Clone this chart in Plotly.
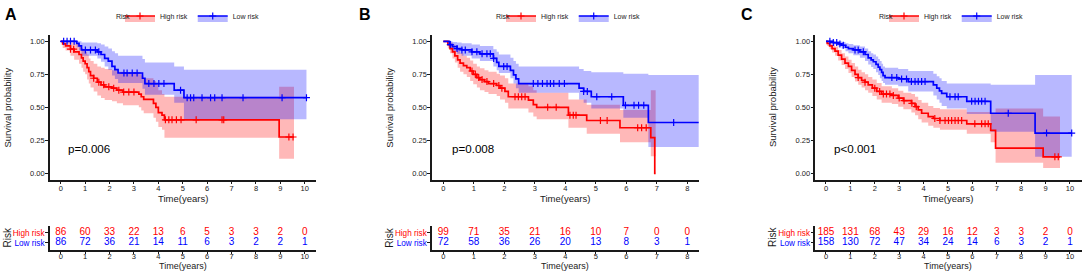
import plotly.graph_objects as go

# ---------------- data ----------------
TICKS_A = list(range(0, 11))
TICKS_B = list(range(0, 9))
TICKS_C = list(range(0, 11))

# Panel A -- High risk
A_high_t = [0, 0.08, 0.2, 0.4, 0.55, 0.75, 0.85, 0.92, 1.0, 1.08, 1.15, 1.22, 1.35, 1.5, 1.65, 1.8, 2.1, 2.3, 2.55, 3.2, 3.3, 3.4, 3.8, 3.9, 4.0, 4.15, 4.25, 8.95]
A_high_s = [1.0, 0.98, 0.965, 0.94, 0.92, 0.90, 0.875, 0.85, 0.83, 0.80, 0.77, 0.74, 0.72, 0.69, 0.67, 0.655, 0.645, 0.63, 0.615, 0.60, 0.58, 0.56, 0.53, 0.50, 0.46, 0.44, 0.405, 0.275]
A_high_up = [1.0, 1.0, 1.0, 0.99, 0.98, 0.97, 0.95, 0.93, 0.92, 0.90, 0.87, 0.85, 0.83, 0.81, 0.80, 0.79, 0.78, 0.77, 0.76, 0.75, 0.74, 0.72, 0.70, 0.67, 0.63, 0.60, 0.58, 0.655]
A_high_lo = [1.0, 0.95, 0.93, 0.89, 0.86, 0.83, 0.80, 0.77, 0.75, 0.71, 0.68, 0.65, 0.62, 0.59, 0.57, 0.555, 0.545, 0.53, 0.515, 0.50, 0.475, 0.455, 0.42, 0.39, 0.35, 0.33, 0.27, 0.11]
A_high_end = 9.56
A_high_cens = [0.4, 0.53, 1.35, 1.56, 1.76, 1.97, 2.17, 2.38, 2.58, 2.79, 3.0, 4.29, 4.43, 4.56, 4.74, 4.93, 5.55, 6.61, 6.68, 9.35, 9.52]
# Panel A -- Low risk
A_low_t = [0, 0.65, 0.75, 0.85, 1.5, 1.65, 1.8, 1.95, 2.1, 2.22, 2.35, 3.35, 3.45, 4.65, 5.05]
A_low_s = [1.0, 0.985, 0.965, 0.935, 0.92, 0.90, 0.87, 0.85, 0.81, 0.785, 0.76, 0.72, 0.68, 0.63, 0.573]
A_low_up = [1.0, 1.0, 1.0, 0.99, 0.985, 0.975, 0.96, 0.945, 0.925, 0.91, 0.89, 0.865, 0.84, 0.81, 0.785]
A_low_lo = [1.0, 0.955, 0.93, 0.89, 0.87, 0.845, 0.81, 0.785, 0.74, 0.715, 0.685, 0.64, 0.595, 0.535, 0.41]
A_low_end = 10.07
A_low_cens = [0.12, 0.26, 0.4, 0.55, 1.01, 1.22, 1.42, 1.56, 2.59, 2.72, 2.93, 3.13, 3.61, 3.82, 4.02, 4.23, 4.91, 5.18, 5.32, 5.45, 5.79, 6.14, 6.31, 6.61, 7.47, 9.07, 10.07]
A_high_risk = [86, 60, 33, 22, 13, 6, 5, 3, 3, 2, 0]
A_low_risk = [86, 72, 36, 21, 14, 11, 6, 3, 2, 2, 1]
A_p = "p=0.006"

# Panel B -- High risk
B_high_t = [0, 0.15, 0.22, 0.3, 0.38, 0.47, 0.55, 0.66, 0.77, 0.88, 0.98, 1.1, 1.2, 1.35, 1.48, 1.75, 1.86, 2.02, 2.13, 2.79, 2.95, 3.06, 4.1, 4.7, 5.79, 6.8, 6.93]
B_high_s = [1.0, 0.975, 0.945, 0.92, 0.89, 0.86, 0.835, 0.815, 0.80, 0.775, 0.75, 0.725, 0.71, 0.695, 0.68, 0.665, 0.645, 0.62, 0.58, 0.555, 0.52, 0.50, 0.44, 0.40, 0.345, 0.27, 0.0]
B_high_up = [1.0, 1.0, 0.99, 0.975, 0.95, 0.93, 0.91, 0.89, 0.875, 0.855, 0.83, 0.81, 0.795, 0.78, 0.77, 0.755, 0.74, 0.72, 0.68, 0.66, 0.63, 0.61, 0.56, 0.52, 0.48, 0.63, 0.63]
B_high_lo = [1.0, 0.945, 0.91, 0.87, 0.84, 0.80, 0.77, 0.75, 0.73, 0.70, 0.675, 0.65, 0.63, 0.615, 0.60, 0.585, 0.56, 0.535, 0.49, 0.46, 0.43, 0.41, 0.345, 0.30, 0.235, 0.13, 0.13]
B_high_end = 6.96
B_high_cens = [0.94, 1.05, 1.16, 1.27, 1.43, 1.65, 1.82, 1.92, 2.35, 2.46, 2.57, 2.68, 3.42, 3.7, 4.15, 4.26, 4.35, 5.15, 5.37, 6.37, 6.5, 6.65]
# Panel B -- Low risk
B_low_t = [0, 0.2, 0.3, 0.45, 0.6, 0.93, 1.2, 1.64, 1.75, 1.82, 2.2, 2.3, 2.38, 2.47, 4.45, 4.6, 4.85, 5.9, 6.72]
B_low_s = [1.0, 0.975, 0.96, 0.945, 0.935, 0.92, 0.905, 0.87, 0.84, 0.81, 0.78, 0.745, 0.715, 0.68, 0.645, 0.62, 0.58, 0.515, 0.385]
B_low_up = [1.0, 1.0, 0.995, 0.99, 0.985, 0.975, 0.965, 0.94, 0.92, 0.90, 0.875, 0.85, 0.83, 0.81, 0.79, 0.775, 0.765, 0.755, 0.745]
B_low_lo = [1.0, 0.945, 0.925, 0.905, 0.89, 0.87, 0.85, 0.81, 0.78, 0.76, 0.72, 0.68, 0.645, 0.61, 0.56, 0.535, 0.49, 0.42, 0.20]
B_low_end = 8.37
B_low_cens = [0.23, 0.45, 0.61, 0.72, 0.94, 1.1, 1.27, 1.43, 1.54, 1.65, 1.98, 2.09, 2.95, 3.1, 3.25, 3.4, 3.51, 3.62, 3.8, 3.97, 4.6, 4.72, 5.03, 5.52, 5.97, 6.25, 6.4, 6.57, 7.55]
B_high_risk = [99, 71, 35, 21, 16, 10, 7, 0, 0]
B_low_risk = [72, 58, 36, 26, 20, 13, 8, 3, 1]
B_p = "p=0.008"

# Panel C -- High risk
C_high_t = [0, 0.05, 0.15, 0.25, 0.37, 0.5, 0.64, 0.78, 0.92, 1.05, 1.19, 1.32, 1.46, 1.6, 1.73, 1.9, 2.08, 2.28, 2.7, 2.96, 3.17, 3.5, 3.65, 3.78, 3.92, 4.19, 4.4, 4.67, 5.77, 6.75, 6.95, 8.9]
C_high_s = [1.0, 0.985, 0.965, 0.945, 0.925, 0.895, 0.865, 0.835, 0.81, 0.78, 0.75, 0.725, 0.705, 0.69, 0.67, 0.645, 0.62, 0.60, 0.59, 0.57, 0.55, 0.53, 0.505, 0.48, 0.455, 0.43, 0.415, 0.40, 0.375, 0.325, 0.19, 0.125]
C_high_up = [1.0, 1.0, 0.99, 0.975, 0.96, 0.935, 0.91, 0.885, 0.86, 0.835, 0.81, 0.785, 0.765, 0.75, 0.73, 0.71, 0.685, 0.66, 0.645, 0.625, 0.61, 0.60, 0.58, 0.555, 0.535, 0.51, 0.495, 0.485, 0.465, 0.45, 0.49, 0.43]
C_high_lo = [1.0, 0.965, 0.94, 0.915, 0.89, 0.855, 0.82, 0.79, 0.76, 0.73, 0.695, 0.67, 0.65, 0.63, 0.61, 0.585, 0.56, 0.535, 0.525, 0.505, 0.485, 0.46, 0.44, 0.41, 0.385, 0.36, 0.345, 0.33, 0.30, 0.235, 0.08, 0.04]
C_high_end = 9.59
C_high_cens = [1.32, 1.6, 2.0, 2.2, 2.35, 2.48, 2.62, 2.76, 3.0, 3.2, 3.52, 3.7, 4.46, 4.67, 4.88, 5.02, 5.15, 5.29, 5.42, 5.56, 6.1, 6.38, 6.52, 6.65, 9.38, 9.52]
# Panel C -- Low risk
C_low_t = [0, 0.3, 0.5, 0.64, 0.8, 0.92, 1.12, 1.39, 1.6, 1.73, 1.85, 1.94, 2.05, 2.14, 2.21, 2.28, 2.34, 2.42, 2.96, 3.37, 4.4, 4.54, 4.65, 4.74, 4.95, 5.77, 6.75, 8.57]
C_low_s = [1.0, 0.99, 0.98, 0.97, 0.955, 0.945, 0.935, 0.92, 0.90, 0.875, 0.86, 0.845, 0.825, 0.805, 0.785, 0.765, 0.74, 0.725, 0.715, 0.695, 0.67, 0.645, 0.625, 0.605, 0.58, 0.545, 0.455, 0.305]
C_low_up = [1.0, 1.0, 1.0, 0.995, 0.985, 0.98, 0.97, 0.96, 0.945, 0.925, 0.91, 0.90, 0.885, 0.865, 0.85, 0.83, 0.81, 0.80, 0.79, 0.775, 0.755, 0.735, 0.72, 0.70, 0.68, 0.68, 0.67, 0.745]
C_low_lo = [1.0, 0.975, 0.96, 0.945, 0.925, 0.91, 0.895, 0.875, 0.85, 0.825, 0.805, 0.79, 0.765, 0.745, 0.72, 0.70, 0.685, 0.67, 0.66, 0.62, 0.59, 0.56, 0.535, 0.51, 0.49, 0.45, 0.315, 0.125]
C_low_end = 10.07
C_low_cens = [0.16, 0.3, 0.44, 0.57, 0.71, 1.19, 1.32, 1.53, 2.7, 2.9, 3.1, 3.3, 3.5, 3.65, 3.78, 3.92, 4.06, 5.08, 5.29, 5.42, 5.97, 6.11, 6.25, 6.38, 6.52, 7.47, 9.04, 10.07]
C_high_risk = [185, 131, 68, 43, 29, 16, 12, 3, 3, 2, 0]
C_low_risk = [158, 130, 72, 47, 34, 24, 14, 6, 3, 2, 1]
C_p = "p<0.001"

# ---------------- styling / layout ----------------
W, H = 1084, 274
RED, BLUE = "#FF0000", "#0000FF"
RED_FILL, BLUE_FILL = "rgba(255,0,0,0.28)", "rgba(0,0,255,0.28)"
FONT = "Liberation Sans, Arial, sans-serif"
INK = "#1a1a1a"
TICK_FS = 7.5


def fx(p):
    return p / W


def fy(p):
    return 1 - p / H


panels = [
    dict(label="A", left=49.5, right=315.5, xr=[-0.46, 10.44], ticks=TICKS_A,
         high=(A_high_t, A_high_s, A_high_up, A_high_lo, A_high_end, A_high_cens),
         low=(A_low_t, A_low_s, A_low_up, A_low_lo, A_low_end, A_low_cens),
         hr=A_high_risk, lr=A_low_risk, p=A_p, lab_x=10.8, leg_x=192, risk_x=132),
    dict(label="B", left=431.7, right=699.0, xr=[-0.38, 8.38], ticks=TICKS_B,
         high=(B_high_t, B_high_s, B_high_up, B_high_lo, B_high_end, B_high_cens),
         low=(B_low_t, B_low_s, B_low_up, B_low_lo, B_low_end, B_low_cens),
         hr=B_high_risk, lr=B_low_risk, p=B_p, lab_x=364.5, leg_x=573, risk_x=512),
    dict(label="C", left=815.0, right=1081.7, xr=[-0.45, 10.48], ticks=TICKS_C,
         high=(C_high_t, C_high_s, C_high_up, C_high_lo, C_high_end, C_high_cens),
         low=(C_low_t, C_low_s, C_low_up, C_low_lo, C_low_end, C_low_cens),
         hr=C_high_risk, lr=C_low_risk, p=C_p, lab_x=747, leg_x=956, risk_x=895),
]

MAIN_Y_DOM = [fy(179.9), fy(34.7)]
TAB_Y_DOM = [fy(250.0), fy(226.0)]


def step_at(ts, ss, x):
    v = ss[0]
    for t, s in zip(ts, ss):
        if t <= x:
            v = s
    return v


def ann(text, x, y, size, xanchor="center", angle=0, color=INK, xref="paper", yref="paper"):
    return dict(text=text, x=x, y=y, xref=xref, yref=yref, xanchor=xanchor, yanchor="middle",
                showarrow=False, textangle=angle, font=dict(size=size, color=color, family=FONT))


fig = go.Figure()
annotations = []
layout_extra = {}

for i, pn in enumerate(panels):
    k = i + 1          # main axes index
    kt = i + 4         # risk-table axes index
    xa, ya = f"x{k}", f"y{k}"
    xt, yt = f"x{kt}", f"y{kt}"
    leg = "legend" if i == 0 else f"legend{i + 1}"

    series = [(pn["high"], RED, RED_FILL, "High risk"), (pn["low"], BLUE, BLUE_FILL, "Low risk")]

    # confidence bands
    for (t, s, up, lo, end, cens), col, fill, name in series:
        xs = list(t) + [end]
        fig.add_trace(go.Scatter(x=xs, y=list(lo) + [lo[-1]], xaxis=xa, yaxis=ya, mode="lines",
                                 line=dict(width=0, shape="hv", color=fill), showlegend=False,
                                 hoverinfo="skip"))
        fig.add_trace(go.Scatter(x=xs, y=list(up) + [up[-1]], xaxis=xa, yaxis=ya, mode="lines",
                                 line=dict(width=0, shape="hv", color=fill), fill="tonexty",
                                 fillcolor=fill, showlegend=False, hoverinfo="skip"))
    # survival curves
    for (t, s, up, lo, end, cens), col, fill, name in series:
        xs = list(t) + [end]
        fig.add_trace(go.Scatter(x=xs, y=list(s) + [s[-1]], xaxis=xa, yaxis=ya, mode="lines",
                                 line=dict(width=1.7, shape="hv", color=col), showlegend=False,
                                 name=name))
    # censor marks
    for (t, s, up, lo, end, cens), col, fill, name in series:
        fig.add_trace(go.Scatter(x=cens, y=[step_at(t, s, c) for c in cens], xaxis=xa, yaxis=ya,
                                 mode="markers", marker=dict(symbol="cross-thin", size=5,
                                                             line=dict(width=1.2, color=col), color=col),
                                 showlegend=False, name=name))
    # legend keys
    for (t, s, up, lo, end, cens), col, fill, name in series:
        fig.add_trace(go.Scatter(x=[None], y=[None], xaxis=xa, yaxis=ya, mode="lines+markers",
                                 line=dict(width=1.5, color=col), fill="toself", fillcolor=fill,
                                 marker=dict(symbol="cross-thin", size=5, line=dict(width=1.2, color=col)),
                                 name=name, legend=leg, showlegend=True))
    # risk table
    fig.add_trace(go.Scatter(x=pn["ticks"], y=["High risk"] * len(pn["hr"]), xaxis=xt, yaxis=yt,
                             mode="text", text=[str(v) for v in pn["hr"]],
                             textfont=dict(color=RED, size=10, family=FONT), showlegend=False))
    fig.add_trace(go.Scatter(x=pn["ticks"], y=["Low risk"] * len(pn["lr"]), xaxis=xt, yaxis=yt,
                             mode="text", text=[str(v) for v in pn["lr"]],
                             textfont=dict(color=BLUE, size=10, family=FONT), showlegend=False))

    xdom = [fx(pn["left"]), fx(pn["right"])]
    axis_common = dict(showline=True, linecolor=INK, linewidth=1.6, ticks="outside", ticklen=2.5,
                       tickcolor=INK, tickwidth=1, showgrid=False, zeroline=False)
    tickfont = dict(size=TICK_FS, color=INK, family=FONT)
    layout_extra[f"xaxis{k}"] = dict(domain=xdom, range=pn["xr"], anchor=ya, tickvals=pn["ticks"],
                                     tickfont=tickfont, ticklabelstandoff=-2, **axis_common)
    layout_extra[f"yaxis{k}"] = dict(domain=MAIN_Y_DOM, range=[-0.05, 1.05], anchor=xa,
                                     tickvals=[0, 0.25, 0.5, 0.75, 1.0], tickformat=".2f",
                                     tickfont=tickfont, ticklabelstandoff=-1, **axis_common)
    layout_extra[f"xaxis{kt}"] = dict(domain=xdom, range=pn["xr"], anchor=yt, tickvals=pn["ticks"],
                                      tickfont=tickfont, ticklabelstandoff=-4, **axis_common)
    layout_extra[f"yaxis{kt}"] = dict(domain=TAB_Y_DOM, range=[-0.73, 1.67], anchor=xt, type="category",
                                      categoryorder="array", categoryarray=["Low risk", "High risk"],
                                      tickvals=["Low risk", "High risk"],
                                      ticktext=[f'<span style="color:{BLUE}">Low risk</span>',
                                                f'<span style="color:{RED}">High risk</span>'],
                                      tickfont=dict(size=8.2, family=FONT), ticklabelstandoff=-1,
                                      **axis_common)

    cx = (pn["left"] + pn["right"]) / 2
    annotations.append(ann(f"<b>{pn['label']}</b>", fx(pn["lab_x"]), fy(15), 16, color="black"))
    annotations.append(ann("Survival probability", fx(pn["left"] - 42.5), fy(107.5), 9.5, angle=-90))
    annotations.append(ann("Time(years)", fx(cx), fy(199), 9.5))
    annotations.append(ann("Risk", fx(pn["left"] - 42.5), fy(237.5), 10, angle=-90))
    annotations.append(ann("Time(years)", fx(cx), fy(265.5), 9))
    annotations.append(ann(pn["p"], 0.23, 0.19, 11.6, xanchor="left", color="black", xref=xa, yref=ya))
    annotations.append(ann("Risk", fx(pn["risk_x"]), fy(16), 7, xanchor="right"))
    layout_extra[leg] = dict(x=fx(pn["leg_x"]), y=fy(16), xanchor="center", yanchor="middle",
                             orientation="h", bgcolor="rgba(0,0,0,0)", itemwidth=30,
                             traceorder="normal", font=dict(size=7, family=FONT, color=INK),
                             tracegroupgap=0)

fig.update_layout(width=W, height=H, margin=dict(l=0, r=0, t=0, b=0), plot_bgcolor="white",
                  paper_bgcolor="white", font=dict(family=FONT), annotations=annotations,
                  **layout_extra)

fig.write_html("out.html", config={"displayModeBar": False},
               post_script="document.body.style.margin='0px';document.body.style.overflow='hidden';")
